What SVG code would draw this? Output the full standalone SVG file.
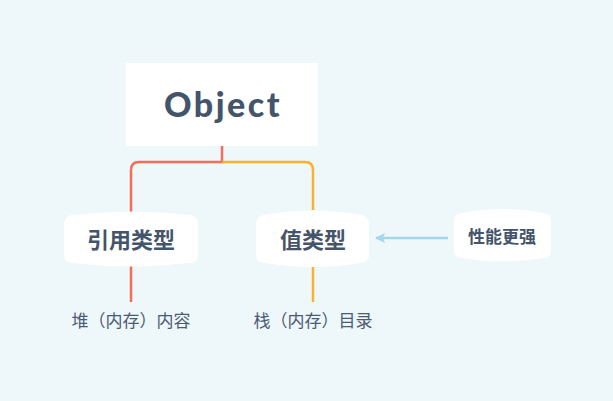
<svg xmlns="http://www.w3.org/2000/svg" width="613" height="401" viewBox="0 0 613 401">
<defs>
<style>
.node{fill:#ffffff}
.t{font-family:"Noto Sans CJK SC","Noto Sans",sans-serif;font-weight:bold;fill:#44546b;text-anchor:middle}
.leaf{font-family:"Noto Sans CJK SC","Noto Sans",sans-serif;font-size:17px;fill:#4c5b75;text-anchor:middle}
</style>
<marker id="ah" viewBox="0 0 10 10" refX="9" refY="5" markerWidth="10" markerHeight="10" markerUnits="userSpaceOnUse" orient="auto">
<path d="M0,0 L10,5 L0,10 L2,5 Z" fill="#a3d8ea"/>
</marker>
</defs>
<rect width="613" height="401" fill="#eef7fa"/>
<g id="connectors" fill="none" stroke-width="2.5">
<path d="M222,146 L222,162 L139,162 Q131,162 131,170 L131,214" stroke="#f66c5b"/>
<path d="M222,162 L305,162 Q313,162 313,170 L313,210" stroke="#fbb12c"/>
<path d="M131,266 L131,302" stroke="#f66c5b"/>
<path d="M313,266 L313,302" stroke="#fbb12c"/>
<path d="M448,238 L376,238" stroke="#a3d8ea" marker-end="url(#ah)"/>
</g>
<g id="object">
<rect class="node" x="126" y="63" width="192" height="83"/>
<text x="223" y="117" font-family="Lato,'Noto Sans',sans-serif" font-weight="900" font-size="34" letter-spacing="2.5" fill="#44546b" text-anchor="middle">Object</text>
</g>
<g id="ref-type">
<path class="node" d="M64,224 Q64,216 72,215 Q131,208 190,215 Q198,216 198,224 L198,255 Q198,262 190,263 Q131,270 72,263 Q64,262 64,255 Z"/>
<text class="t" x="131" y="248" font-size="22">引用类型</text>
</g>
<g id="value-type">
<path class="node" d="M256,224 Q256,216 264,215 Q313,206 361,215 Q369,216 369,224 L369,255 Q369,262 361,263 Q313,271 264,263 Q256,262 256,255 Z"/>
<text class="t" x="313" y="248" font-size="22">值类型</text>
</g>
<g id="perf">
<path class="node" d="M454,221 Q454,214 461,213 Q502,205 544,213 Q551,214 551,221 L551,251 Q551,257 544,258 Q502,265 461,258 Q454,257 454,251 Z"/>
<text class="t" x="502" y="243" font-size="17">性能更强</text>
</g>
<g id="heap">
<text class="leaf" x="131" y="327">堆（内存）内容</text>
</g>
<g id="stack">
<text class="leaf" x="313" y="327">栈（内存）目录</text>
</g>
</svg>
